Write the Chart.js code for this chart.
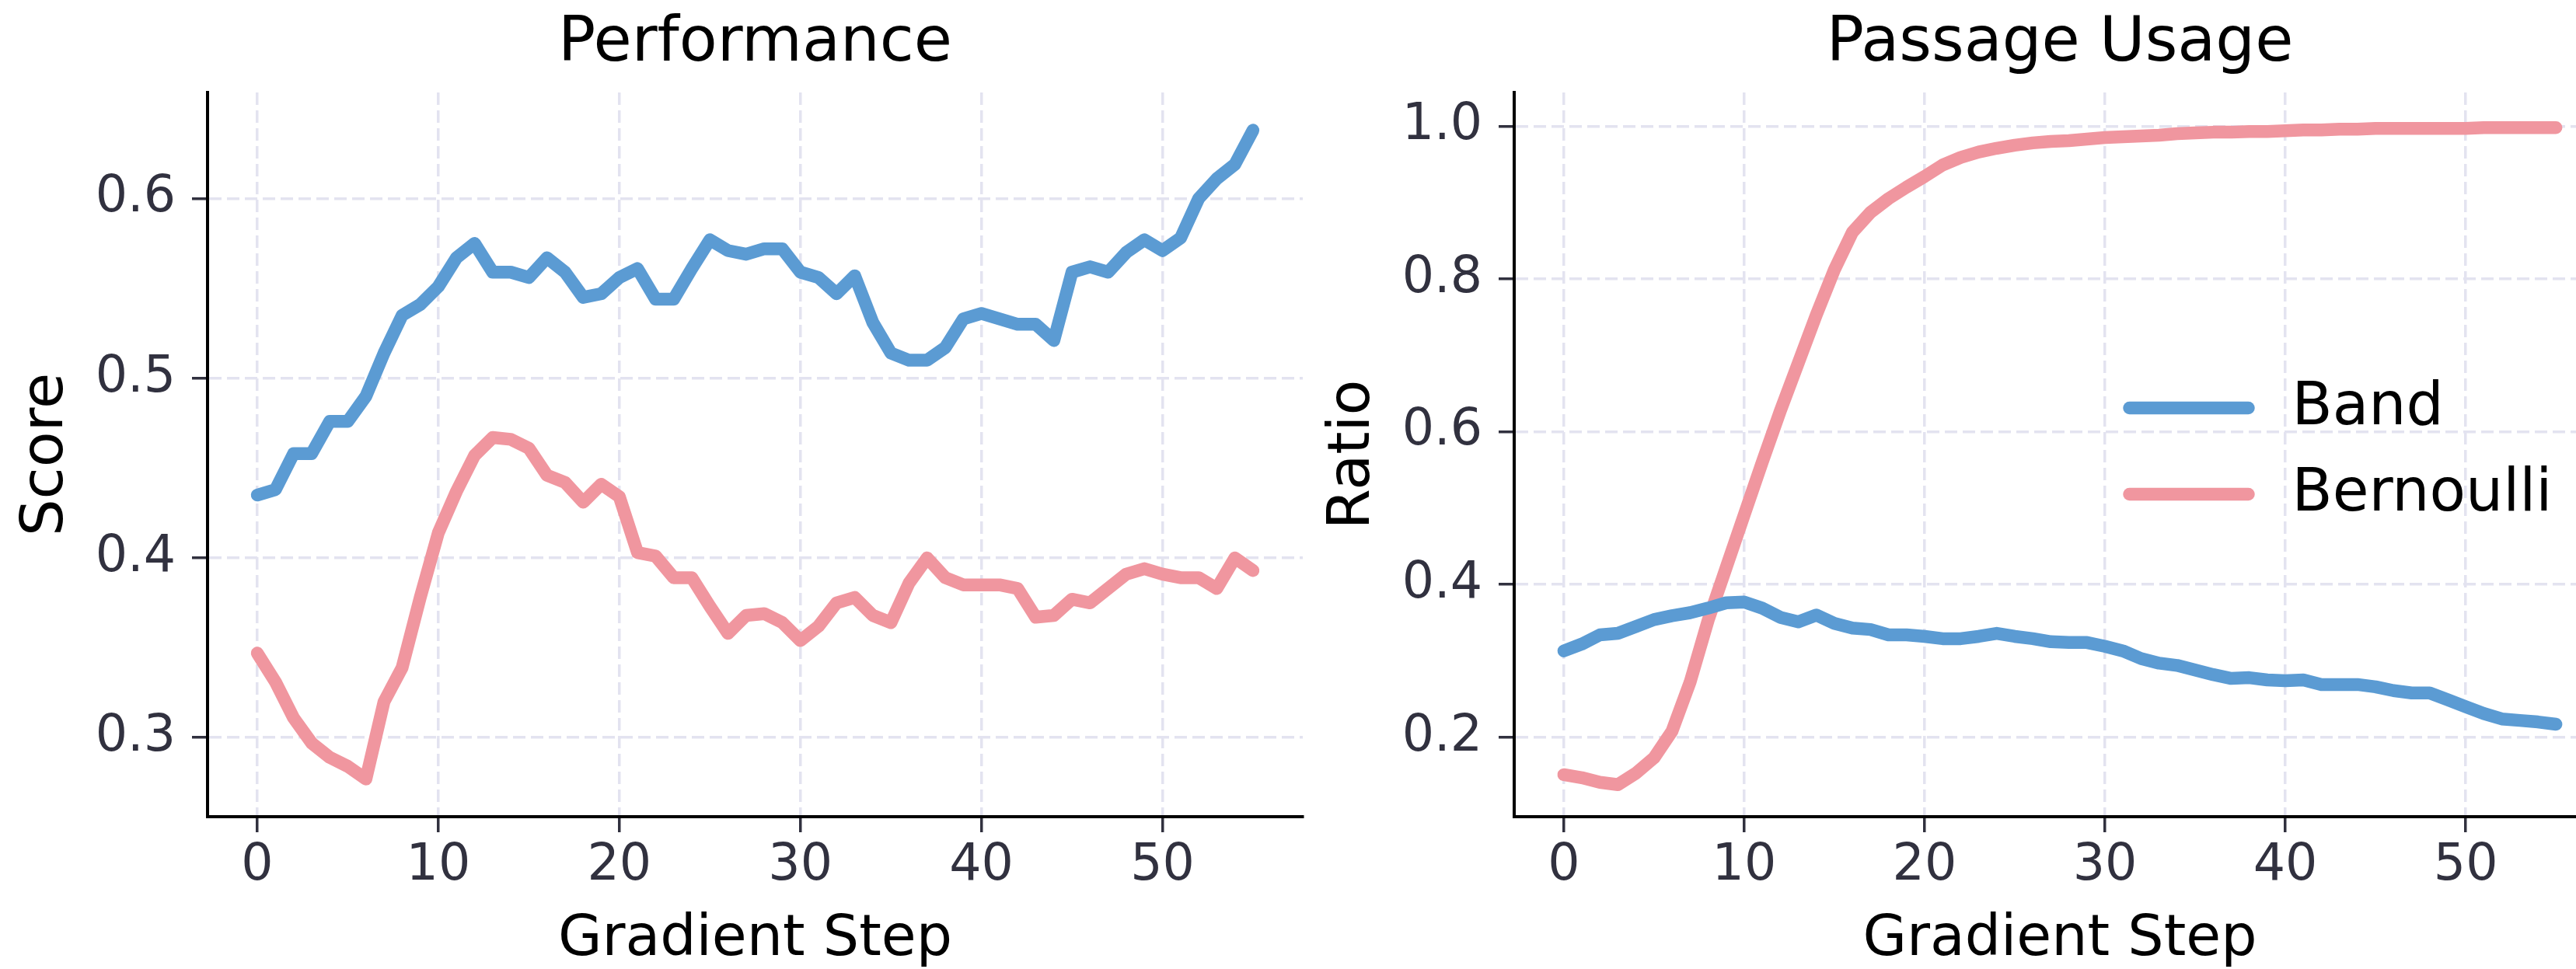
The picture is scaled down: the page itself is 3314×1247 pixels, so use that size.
<!DOCTYPE html>
<html>
<head>
<meta charset="utf-8">
<script src="https://cdn.jsdelivr.net/npm/chart.js@4.4.1/dist/chart.umd.min.js"></script>
<style>
  html, body { margin: 0; padding: 0; background: #fff; overflow: hidden; }
  body { width: 3314px; height: 1247px; position: relative; }
  canvas { position: absolute; top: 0; }
  #perfChart { left: 0; }
  #usageChart { left: 1681px; }
</style>
</head>
<body>
<canvas id="perfChart" width="1680" height="1247"></canvas>
<canvas id="usageChart" width="1675" height="1247"></canvas>
<script>
const steps = [
  0, 1, 2, 3, 4, 5, 6, 7, 8, 9, 10, 11, 12, 13, 14, 15, 16, 17, 18, 19,
  20, 21, 22, 23, 24, 25, 26, 27, 28, 29, 30, 31, 32, 33, 34, 35, 36, 37, 38, 39,
  40, 41, 42, 43, 44, 45, 46, 47, 48, 49, 50, 51, 52, 53, 54, 55,
];

const scoreBand = [
  0.435, 0.438, 0.458, 0.458, 0.476, 0.476, 0.490, 0.514, 0.535, 0.541,
  0.551, 0.567, 0.575, 0.559, 0.559, 0.556, 0.567, 0.559, 0.545, 0.547,
  0.556, 0.561, 0.544, 0.544, 0.561, 0.577, 0.571, 0.569, 0.572, 0.572,
  0.559, 0.556, 0.547, 0.557, 0.531, 0.514, 0.510, 0.510, 0.517, 0.533,
  0.536, 0.533, 0.530, 0.530, 0.521, 0.559, 0.562, 0.559, 0.570, 0.577,
  0.571, 0.578, 0.600, 0.611, 0.619, 0.638,
];

const scoreBernoulli = [
  0.347, 0.331, 0.311, 0.297, 0.289, 0.284, 0.277, 0.320, 0.339, 0.378,
  0.414, 0.437, 0.457, 0.467, 0.466, 0.461, 0.446, 0.442, 0.431, 0.441,
  0.434, 0.403, 0.401, 0.389, 0.389, 0.373, 0.358, 0.368, 0.369, 0.364,
  0.354, 0.362, 0.375, 0.378, 0.368, 0.364, 0.386, 0.400, 0.389, 0.385,
  0.385, 0.385, 0.383, 0.367, 0.368, 0.377, 0.375, 0.383, 0.391, 0.394,
  0.391, 0.389, 0.389, 0.383, 0.400, 0.393,
];

const ratioBand = [
  0.313, 0.322, 0.334, 0.336, 0.345, 0.354, 0.359, 0.363, 0.369, 0.376,
  0.377, 0.369, 0.357, 0.351, 0.360, 0.349, 0.343, 0.341, 0.334, 0.334,
  0.332, 0.329, 0.329, 0.332, 0.336, 0.332, 0.329, 0.325, 0.324, 0.324,
  0.319, 0.313, 0.303, 0.297, 0.294, 0.288, 0.282, 0.277, 0.278, 0.275,
  0.274, 0.275, 0.269, 0.269, 0.269, 0.266, 0.261, 0.258, 0.258, 0.249,
  0.240, 0.231, 0.224, 0.222, 0.220, 0.217,
];

const ratioBernoulli = [
  0.151, 0.147, 0.141, 0.138, 0.153, 0.173, 0.208, 0.272, 0.353, 0.422,
  0.491, 0.560, 0.627, 0.690, 0.753, 0.812, 0.861, 0.887, 0.905, 0.920,
  0.934, 0.949, 0.959, 0.966, 0.971, 0.975, 0.978, 0.980, 0.981, 0.983,
  0.985, 0.986, 0.987, 0.988, 0.990, 0.991, 0.992, 0.992, 0.993, 0.993,
  0.994, 0.995, 0.995, 0.996, 0.996, 0.997, 0.997, 0.997, 0.997, 0.997,
  0.997, 0.998, 0.998, 0.998, 0.998, 0.998,
];

const xTicks = [0, 10, 20, 30, 40, 50];
const scoreTicks = [0.3, 0.4, 0.5, 0.6];
const ratioTicks = [0.2, 0.4, 0.6, 0.8, 1.0];
const seriesNames = ['Band', 'Bernoulli'];

const FONT = 'DejaVu Sans';
const TICK_COLOR = '#31313f';
const GRID_COLOR = '#e3e3f0';
const lineColors = ['#5b9bd3', '#f0969f'];
const LINE_WIDTH = 16.5;

const toPoints = (values) => values.map((v, i) => ({ x: steps[i], y: v }));

const makeDatasets = (bandValues, bernValues) => [bandValues, bernValues].map((values, i) => ({
  label: seriesNames[i],
  data: toPoints(values),
  borderColor: lineColors[i],
  backgroundColor: lineColors[i],
  borderWidth: LINE_WIDTH,
  borderCapStyle: 'round',
  borderJoinStyle: 'round',
  pointRadius: 0,
  tension: 0,
  order: i,
}));

const gridOpts = {
  color: GRID_COLOR,
  lineWidth: 3.5,
  tickLength: 20,
  tickColor: TICK_COLOR,
  tickWidth: 3.5,
  tickBorderDash: [],
};

const borderOpts = { color: '#000', width: 4, dash: [16, 7] };

const makeScales = (yTicks, yMin, yMax, yLabel) => ({
  x: {
    type: 'linear',
    min: -2.75,
    max: 57.75,
    afterBuildTicks: (scale) => { scale.ticks = xTicks.map((value) => ({ value })); },
    afterFit: (scale) => { scale.height = 196; },
    ticks: {
      font: { family: FONT, size: 65 }, color: TICK_COLOR, padding: 5,
      maxRotation: 0, autoSkip: false, callback: (v) => String(v),
    },
    grid: gridOpts,
    border: borderOpts,
    title: {
      display: true, text: 'Gradient Step', color: '#000',
      font: { family: FONT, size: 73, lineHeight: 1 }, padding: { top: 0, bottom: 0 },
    },
  },
  y: {
    type: 'linear',
    min: yMin,
    max: yMax,
    afterBuildTicks: (scale) => { scale.ticks = yTicks.map((value) => ({ value })); },
    afterFit: (scale) => { scale.width = 267; },
    ticks: {
      font: { family: FONT, size: 65 }, color: TICK_COLOR, padding: 21,
      autoSkip: false, callback: (v) => v.toFixed(1),
    },
    grid: gridOpts,
    border: borderOpts,
    title: {
      display: true, text: yLabel, color: '#000',
      font: { family: FONT, size: 75, lineHeight: 1.2 }, padding: { top: 16, bottom: 0 },
    },
  },
});

// legend drawn inside the plot, like the matplotlib one
const insideLegend = {
  id: 'insideLegend',
  afterDatasetsDraw(chart) {
    const { ctx, chartArea } = chart;
    const x0 = chartArea.left + 791.5;
    const y0 = chartArea.top + 406;
    ctx.save();
    chart.data.datasets.forEach((ds, i) => {
      const y = y0 + i * 111;
      ctx.strokeStyle = ds.borderColor;
      ctx.lineWidth = LINE_WIDTH;
      ctx.lineCap = 'round';
      ctx.beginPath();
      ctx.moveTo(x0, y);
      ctx.lineTo(x0 + 153, y);
      ctx.stroke();
      ctx.fillStyle = '#000';
      ctx.font = `76px "${FONT}"`;
      ctx.textBaseline = 'middle';
      ctx.textAlign = 'left';
      ctx.fillText(ds.label, x0 + 209, y + 1.5);
    });
    ctx.restore();
  },
};

const makeOptions = (title, yTicks, yMin, yMax, yLabel) => ({
  responsive: false,
  animation: false,
  devicePixelRatio: 1,
  layout: { padding: { left: 0, right: 4, top: 0, bottom: 0 } },
  plugins: {
    legend: { display: false },
    tooltip: { enabled: false },
    title: {
      display: true,
      text: title,
      fullSize: false,
      color: '#000',
      font: { family: FONT, size: 80, weight: 'normal', lineHeight: 1.2 },
      padding: { top: 9, bottom: 14 },
    },
  },
  scales: makeScales(yTicks, yMin, yMax, yLabel),
});

// eslint-disable-next-line no-new, no-undef
new Chart(document.getElementById('perfChart'), {
  type: 'line',
  data: { datasets: makeDatasets(scoreBand, scoreBernoulli) },
  options: makeOptions('Performance', scoreTicks, 0.256, 0.659, 'Score'),
});

// eslint-disable-next-line no-new, no-undef
new Chart(document.getElementById('usageChart'), {
  type: 'line',
  data: { datasets: makeDatasets(ratioBand, ratioBernoulli) },
  options: makeOptions('Passage Usage', ratioTicks, 0.096, 1.044, 'Ratio'),
  plugins: [insideLegend],
});
</script>
</body>
</html>
